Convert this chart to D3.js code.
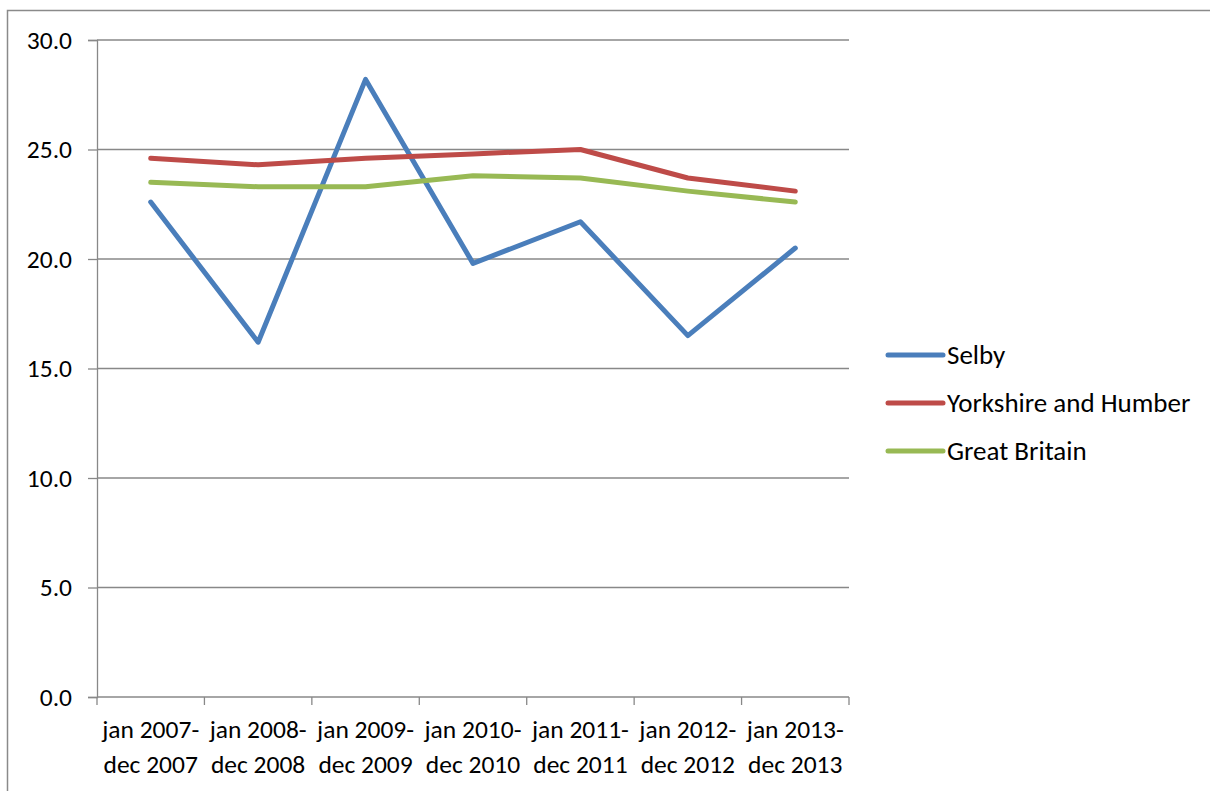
<!DOCTYPE html>
<html>
<head>
<meta charset="utf-8">
<script src="https://cdn.jsdelivr.net/npm/d3@7"></script>
<style>
  html, body { margin: 0; padding: 0; background: #fff; }
  svg { display: block; font-family: Carlito, Calibri, Lato, "Open Sans", sans-serif; }
</style>
</head>
<body>
<svg id="chart" width="1210" height="791"></svg>
<script>
// Period categories (two-line labels)
const periods = [
  ["jan 2007-", "dec 2007"],
  ["jan 2008-", "dec 2008"],
  ["jan 2009-", "dec 2009"],
  ["jan 2010-", "dec 2010"],
  ["jan 2011-", "dec 2011"],
  ["jan 2012-", "dec 2012"],
  ["jan 2013-", "dec 2013"]
];
const seriesNames = ["Selby", "Yorkshire and Humber", "Great Britain"];
const selby = [22.6, 16.2, 28.2, 19.8, 21.7, 16.5, 20.5];
const yorkshire = [24.6, 24.3, 24.6, 24.8, 25.0, 23.7, 23.1];
const greatBritain = [23.5, 23.3, 23.3, 23.8, 23.7, 23.1, 22.6];
const yTicks = [0, 5, 10, 15, 20, 25, 30];
const colors = ["#4a7ebb", "#be4b48", "#98b954"];

const svg = d3.select("#chart");
const plotLeft = 97, plotRight = 849, plotTop = 40, plotBottom = 697;
const fontSize = 25.5;

// Outer chart border (runs off the right and bottom edges)
svg.append("rect")
  .attr("x", 7.5).attr("y", 10.5)
  .attr("width", 1220).attr("height", 800)
  .attr("fill", "none").attr("stroke", "#8a8a8a").attr("stroke-width", 1.5);

const x = d3.scaleBand().domain(d3.range(periods.length)).range([plotLeft, plotRight]);
const y = d3.scaleLinear().domain([0, 30]).range([plotBottom, plotTop]);

// Horizontal gridlines
svg.append("g").selectAll("line").data(yTicks.filter(d => d > 0)).join("line")
  .attr("x1", plotLeft).attr("x2", plotRight)
  .attr("y1", d => y(d)).attr("y2", d => y(d))
  .attr("stroke", "#888").attr("stroke-width", 1.3);

// Y axis
const yAxis = svg.append("g").attr("transform", `translate(${plotLeft},0)`)
  .call(d3.axisLeft(y).tickValues(yTicks).tickFormat(d3.format(".1f")).tickSize(9).tickPadding(16));
yAxis.select(".domain").attr("stroke", "#888").attr("stroke-width", 1.3);
yAxis.selectAll(".tick line").attr("stroke", "#888").attr("stroke-width", 1.3);
yAxis.selectAll(".tick text").attr("font-size", fontSize).attr("fill", "#000")
  .attr("font-family", "Carlito, Calibri, Lato, sans-serif");

// X axis with ticks at category boundaries
const xAxisG = svg.append("g");
xAxisG.append("line").attr("x1", plotLeft).attr("x2", plotRight)
  .attr("y1", plotBottom).attr("y2", plotBottom)
  .attr("stroke", "#888").attr("stroke-width", 1.3);
const boundaries = d3.range(periods.length + 1).map(i => i < periods.length ? x(i) : x(periods.length - 1) + x.bandwidth());
xAxisG.selectAll("line.tk").data(boundaries).join("line").attr("class", "tk")
  .attr("x1", d => d).attr("x2", d => d)
  .attr("y1", plotBottom).attr("y2", plotBottom + 8)
  .attr("stroke", "#888").attr("stroke-width", 1.3);
const labels = xAxisG.selectAll("text").data(periods).join("text")
  .attr("x", (d, i) => x(i) + x.bandwidth() / 2)
  .attr("text-anchor", "middle")
  .attr("font-size", fontSize).attr("fill", "#000");
labels.append("tspan").attr("x", (d, i) => x(i) + x.bandwidth() / 2).attr("y", 738).text(d => d[0]);
labels.append("tspan").attr("x", (d, i) => x(i) + x.bandwidth() / 2).attr("y", 773).text(d => d[1]);

// Series lines
const allSeries = [selby, yorkshire, greatBritain];
const line = d3.line().x((d, i) => x(i) + x.bandwidth() / 2).y(d => y(d));
svg.append("g").selectAll("path").data(allSeries).join("path")
  .attr("d", line)
  .attr("fill", "none")
  .attr("stroke", (d, i) => colors[i])
  .attr("stroke-width", 5)
  .attr("stroke-linejoin", "round")
  .attr("stroke-linecap", "round");

// Legend
const legend = svg.append("g").selectAll("g").data(seriesNames).join("g")
  .attr("transform", (d, i) => `translate(888,${355 + i * 48})`);
legend.append("line").attr("x1", 0).attr("x2", 55).attr("y1", 0).attr("y2", 0)
  .attr("stroke", (d, i) => colors[i]).attr("stroke-width", 5).attr("stroke-linecap", "round");
legend.append("text").attr("x", 59).attr("y", 0).attr("dy", "0.35em")
  .attr("font-size", 27).attr("fill", "#000").text(d => d);
</script>
</body>
</html>
